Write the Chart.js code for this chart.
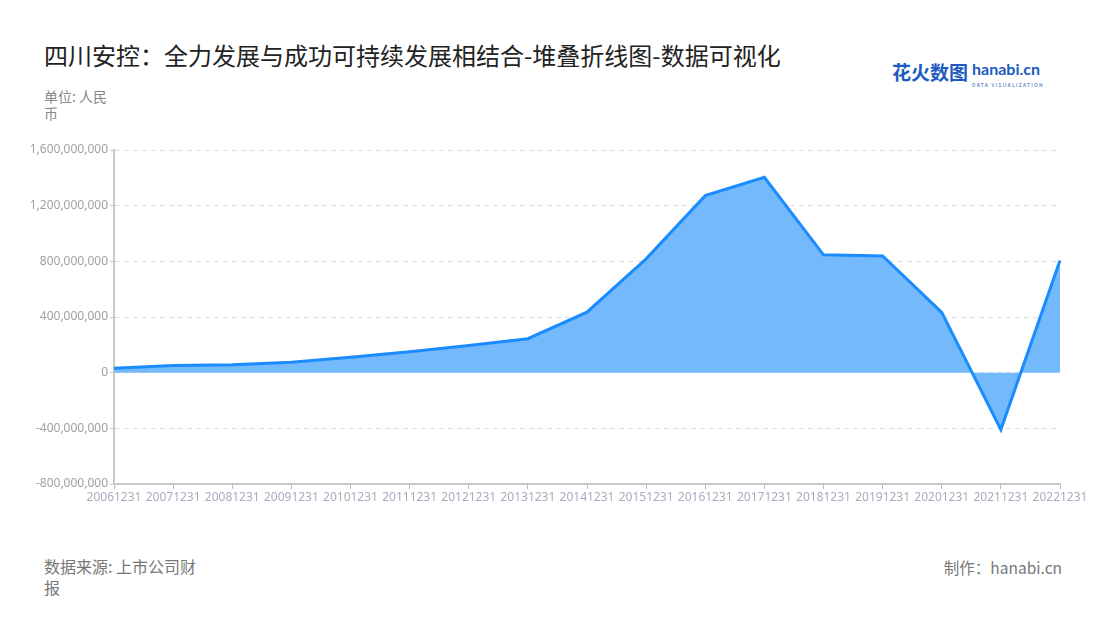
<!DOCTYPE html>
<html>
<head>
<meta charset="utf-8">
<script src="https://cdn.jsdelivr.net/npm/chart.js@4"></script>
<style>
  body { margin: 0; background: #fff; font-family: "Noto Sans CJK SC", "Noto Sans", sans-serif; }
  #page { position: relative; width: 1100px; height: 620px; overflow: hidden; }
  .title { position: absolute; left: 44px; top: 38px; font-size: 24px; line-height: 34px; color: #222; white-space: nowrap; }
  .unit { position: absolute; left: 44px; top: 88px; width: 70px; font-size: 14px; color: #888; line-height: 17px; }
  .source { position: absolute; left: 44px; top: 556px; width: 158px; font-size: 16px; color: #777; line-height: 21px; }
  .maker { position: absolute; right: 38px; top: 557px; font-size: 15.5px; line-height: 20px; color: #777; }
  .logo { position: absolute; left: 892px; top: 60px; white-space: nowrap; }
  .logo .cn { font-size: 19px; line-height: 24px; font-weight: bold; color: #1d5bc0; vertical-align: top; }
  .logo .en { display: inline-block; margin-left: 4px; vertical-align: top; line-height: 13px; padding-top: 2px; }
  .logo .en b { font-family: "Lato", sans-serif; font-size: 16px; color: #1d5bc0; display: block; }
  .logo .en i { font-style: normal; font-size: 5px; color: #1d5bc0; letter-spacing: 1.3px; display: block; margin-top: 3px; }
  #wrap { position: absolute; left: 0; top: 130px; width: 1100px; height: 379px; }
</style>
</head>
<body>
<div id="page">
  <div class="title">四川安控：全力发展与成功可持续发展相结合-堆叠折线图-数据可视化</div>
  <div class="logo"><span class="cn">花火数图</span><span class="en"><b>hanabi.cn</b><i>DATA VISUALIZATION</i></span></div>
  <div class="unit">单位: 人民币</div>
  <div id="wrap"><canvas id="chart"></canvas></div>
  <div class="source">数据来源: 上市公司财报</div>
  <div class="maker">制作：hanabi.cn</div>
</div>
<script>
const categories = ["20061231", "20071231", "20081231", "20091231", "20101231", "20111231",
  "20121231", "20131231", "20141231", "20151231", "20161231", "20171231",
  "20181231", "20191231", "20201231", "20211231", "20221231"];
const seriesValues = [31000000, 51000000, 57000000, 74000000, 110000000, 150000000,
  196000000, 244000000, 435000000, 818000000, 1272000000, 1404000000,
  847000000, 839000000, 433000000, -409000000, 806000000];
const yTicks = [-800000000, -400000000, 0, 400000000, 800000000, 1200000000, 1600000000];

const ctx = document.getElementById("chart").getContext("2d");

new Chart(ctx, {
  type: "line",
  data: {
    labels: categories,
    datasets: [
      {
        label: "四川安控",
        data: seriesValues,
        borderColor: "#1a8cff",
        backgroundColor: "#75b9fd",
        borderWidth: 3,
        fill: "origin",
        pointRadius: 0,
        tension: 0,
      },
    ],
  },
  options: {
    responsive: true,
    maintainAspectRatio: false,
    animation: false,
    layout: { padding: { top: 20, right: 40, left: 0, bottom: 0 } },
    plugins: {
      legend: { display: false },
      tooltip: { enabled: false },
    },
    scales: {
      x: {
        offset: false,
        grid: {
          drawOnChartArea: false,
          tickLength: 5,
          tickColor: "#bbb",
        },
        border: { color: "#c8c8c8", width: 2 },
        ticks: {
          color: "#a6adbd",
          font: { size: 12, family: "Noto Sans, sans-serif" },
          maxRotation: 0,
          autoSkip: false,
          padding: 1,
        },
        afterFit: (scale) => { scale.height = 25; },
      },
      y: {
        min: -800000000,
        max: 1600000000,
        afterBuildTicks: (scale) => { scale.ticks = yTicks.map(v => ({ value: v })); },
        grid: {
          color: "#dedede",
          tickColor: "#c8c8c8",
          tickLength: 4,
        },
        border: { color: "#c8c8c8", width: 2, dash: [5, 4] },
        ticks: {
          color: "#a0a0a0",
          font: { size: 12, family: "Noto Sans, sans-serif" },
          padding: 2,
          callback: (v) => v.toLocaleString("en-US"),
        },
        afterFit: (scale) => { scale.width = 114; },
      },
    },
  },
});
</script>
</body>
</html>
